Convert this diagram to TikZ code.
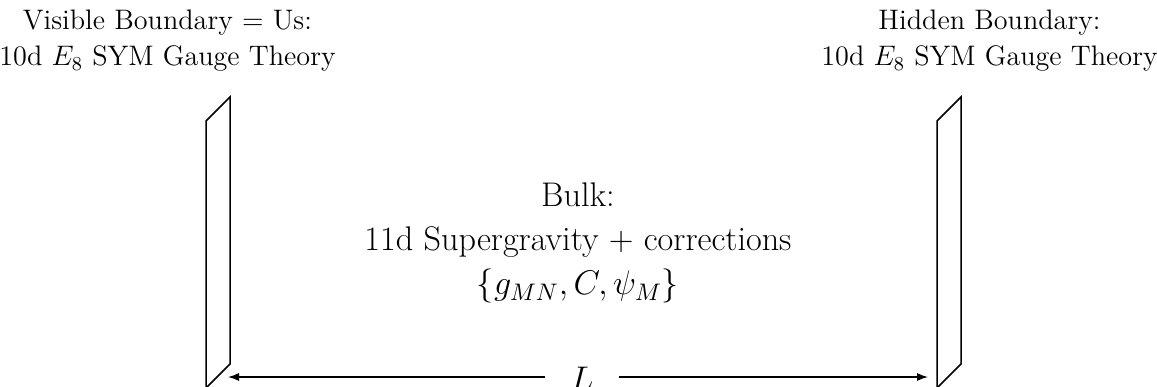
\RequirePackage{fix-cm}
\documentclass[tikz,border=0pt]{standalone}
\usepackage{fontspec}
\usetikzlibrary{arrows.meta}
\begin{document}
\begin{tikzpicture}[x=0.5pt,y=-0.5pt,
  plate/.style={draw=black, line width=0.75pt, line join=miter},
  lbl/.style={align=center, inner sep=0pt},
  toplbl/.style={lbl, font=\fontsize{14.1}{18}\selectfont},
  bulklbl/.style={lbl, font=\fontsize{17.1}{22.2}\selectfont},
  dim/.style={line width=0.65pt, -{Latex[length=5.5pt,width=4pt]}}]
\useasboundingbox (0,0) rectangle (1157,386);
% boundary plates
\draw[plate] (206,388) -- (230,364) -- (230,97) -- (206,121) -- cycle;
\draw[plate] (937,388) -- (961,364) -- (961,97) -- (937,121) -- cycle;
% labels
\node[toplbl] (vis) at (167.5,41) {Visible Boundary $=$ Us:\\10d $E_8$ SYM Gauge Theory};
\node[toplbl] (hid) at (989.5,41) {Hidden Boundary:\\10d $E_8$ SYM Gauge Theory};
\node[bulklbl] (bulk) at (578,243) {Bulk:\\11d Supergravity $+$ corrections\\$\{g_{MN}, C, \psi_M\}$};
% separation
\coordinate (a) at (228,377);
\coordinate (b) at (928,377);
\node[font=\fontsize{17.1}{22.2}\selectfont, fill=white, inner xsep=12.5pt, inner ysep=0pt] (L) at (582,378.4) {$L$};
\draw[dim] (L.west |- a) -- (a);
\draw[dim] (L.east |- b) -- (b);
\end{tikzpicture}
\end{document}
